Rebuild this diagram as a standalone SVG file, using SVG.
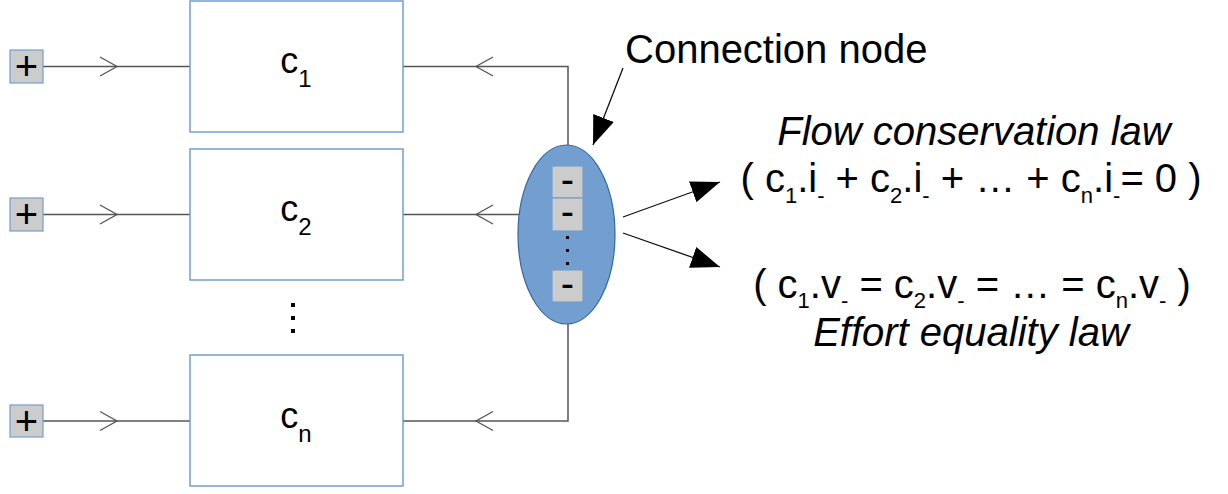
<svg xmlns="http://www.w3.org/2000/svg" width="1228" height="494" viewBox="0 0 1228 494">
<style>
.box{fill:#ffffff;stroke:#729fcf;stroke-width:1.5}
.port{fill:#cccccc;stroke:#729fcf;stroke-width:1.2}
.wire{fill:none;stroke:#555555;stroke-width:1.5}
.chev{fill:none;stroke:#555555;stroke-width:1.3}
.arr{fill:none;stroke:#111111;stroke-width:1.3}
.lbl{font-family:"Liberation Sans",Arial,sans-serif;fill:#000000}
.big{font-size:40px}
.blab{font-size:36px}
.sub{font-size:24px}
.fsub{font-size:22px}
.it{font-style:italic}
</style>
<defs>
<marker id="ah" markerUnits="userSpaceOnUse" markerWidth="30" markerHeight="22" refX="29" refY="11" orient="auto">
<path d="M0,0 L29,11 L0,22 z" fill="#000000"/>
</marker>
</defs>

<g id="connectors">
<line class="wire" x1="43" y1="66.5" x2="190" y2="66.5"/>
<polyline class="chev" points="100,57 117,66.5 100,76"/>
<line class="wire" x1="43" y1="214.5" x2="190" y2="214.5"/>
<polyline class="chev" points="100,205 117,214.5 100,224"/>
<line class="wire" x1="43" y1="421" x2="190" y2="421"/>
<polyline class="chev" points="100,411.5 117,421 100,430.5"/>

<polyline class="wire" points="403,66.5 568,66.5 568,166"/>
<polyline class="chev" points="493,57 476,66.5 493,76"/>
<line class="wire" x1="403" y1="214.5" x2="552" y2="214.5"/>
<polyline class="chev" points="493,205 476,214.5 493,224"/>
<polyline class="wire" points="403,421 568,421 568,302"/>
<polyline class="chev" points="493,411.5 476,421 493,430.5"/>

<line class="arr" x1="623" y1="68" x2="593" y2="145" marker-end="url(#ah)"/>
<line class="arr" x1="623" y1="217" x2="720" y2="182" marker-end="url(#ah)"/>
<line class="arr" x1="623" y1="233" x2="720" y2="267" marker-end="url(#ah)"/>
</g>

<g id="node-p1">
<rect class="port" x="10" y="50" width="33" height="33"/>
<text class="lbl big" x="26.5" y="80" text-anchor="middle">+</text>
</g>
<g id="node-p2">
<rect class="port" x="10" y="198" width="33" height="33"/>
<text class="lbl big" x="26.5" y="228" text-anchor="middle">+</text>
</g>
<g id="node-pn">
<rect class="port" x="10" y="405" width="33" height="32"/>
<text class="lbl big" x="26.5" y="435" text-anchor="middle">+</text>
</g>

<g id="node-c1">
<rect class="box" x="190" y="1" width="213" height="131"/>
<text class="lbl blab" x="296" y="73" text-anchor="middle">c<tspan class="sub" dy="14">1</tspan></text>
</g>
<g id="node-c2">
<rect class="box" x="190" y="149" width="213" height="131"/>
<text class="lbl blab" x="296" y="221" text-anchor="middle">c<tspan class="sub" dy="14">2</tspan></text>
</g>
<g id="node-dots">
<rect x="291" y="303" width="4" height="4" fill="#000"/>
<rect x="291" y="316" width="4" height="4" fill="#000"/>
<rect x="291" y="329" width="4" height="4" fill="#000"/>
</g>
<g id="node-cn">
<rect class="box" x="190" y="355" width="213" height="131"/>
<text class="lbl blab" x="296" y="428" text-anchor="middle">c<tspan class="sub" dy="14">n</tspan></text>
</g>

<g id="node-connection">
<ellipse cx="566.5" cy="234.5" rx="48.5" ry="89.5" fill="#729fcf" stroke="#3465a4" stroke-width="1.2"/>
<rect class="port" x="552" y="166" width="31" height="32"/>
<text class="lbl big" x="567.5" y="193" text-anchor="middle">-</text>
<rect class="port" x="552" y="198" width="31" height="33"/>
<text class="lbl big" x="567.5" y="225" text-anchor="middle">-</text>
<rect x="566" y="236" width="3" height="3" fill="#000"/>
<rect x="566" y="249" width="3" height="3" fill="#000"/>
<rect x="566" y="262" width="3" height="3" fill="#000"/>
<rect class="port" x="552" y="270" width="31" height="32"/>
<text class="lbl big" x="567.5" y="297" text-anchor="middle">-</text>
</g>

<g id="label-connection">
<text class="lbl big" x="625" y="63">Connection node</text>
</g>
<g id="label-flow">
<text class="lbl big it" x="974" y="145" text-anchor="middle">Flow conservation law</text>
<text class="lbl big" x="971" y="192" text-anchor="middle">( c<tspan class="fsub" dy="11">1</tspan><tspan dy="-11">.i</tspan><tspan class="fsub" dy="11">-</tspan><tspan dy="-11"> + c</tspan><tspan class="fsub" dy="11">2</tspan><tspan dy="-11">.i</tspan><tspan class="fsub" dy="11">-</tspan><tspan dy="-11"> + … + c</tspan><tspan class="fsub" dy="11">n</tspan><tspan dy="-11">.i</tspan><tspan class="fsub" dy="11">-</tspan><tspan dy="-11">= 0 )</tspan></text>
</g>
<g id="label-effort">
<text class="lbl big" x="972" y="298" text-anchor="middle">( c<tspan class="fsub" dy="10">1</tspan><tspan dy="-10">.v</tspan><tspan class="fsub" dy="10">-</tspan><tspan dy="-10"> = c</tspan><tspan class="fsub" dy="10">2</tspan><tspan dy="-10">.v</tspan><tspan class="fsub" dy="10">-</tspan><tspan dy="-10"> = … = c</tspan><tspan class="fsub" dy="10">n</tspan><tspan dy="-10">.v</tspan><tspan class="fsub" dy="10">-</tspan><tspan dy="-10"> )</tspan></text>
<text class="lbl big it" x="971" y="346" text-anchor="middle">Effort equality law</text>
</g>
</svg>
